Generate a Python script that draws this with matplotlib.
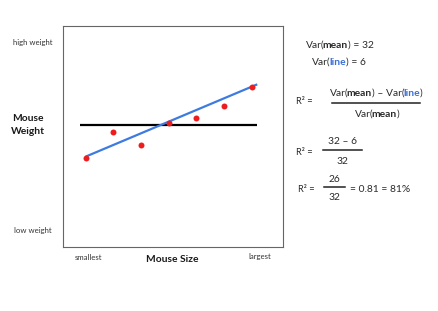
import matplotlib
matplotlib.use("Agg")
import matplotlib.pyplot as plt
from matplotlib.lines import Line2D
from matplotlib.font_manager import FontProperties

plt.rcParams['font.family'] = ['Lato', 'DejaVu Sans']

# ---- data ----
mouse_size = [1, 2, 3, 4, 5, 6, 7]
mouse_weight = [4.01, 5.22, 4.62, 5.62, 5.85, 6.37, 7.25]
mean_line_x = [0.79, 7.19]
mean_line_y = [5.52, 5.52]
fit_line_x = [1.0, 7.2]
fit_line_y = [4.09, 7.36]
var_mean = 32
var_line = 6

W, H = 438, 311
fig = plt.figure(figsize=(W / 100, H / 100), dpi=100)
renderer = fig.canvas.get_renderer()

# overlay axes in pixel coordinates for text placement
ov = fig.add_axes([0, 0, 1, 1])
ov.set_xlim(0, W)
ov.set_ylim(H, 0)
ov.axis('off')

# chart box
L, R, T, B = 63, 283, 26, 247
ax = fig.add_axes([L / W, (H - B) / H, (R - L) / W, (B - T) / H])
ax.set_xlim(0.18, 8.13)
ax.set_ylim(0, 10)
ax.set_xticks([])
ax.set_yticks([])
for s in ax.spines.values():
    s.set_color('#666666')
    s.set_linewidth(0.8)

ax.plot(mean_line_x, mean_line_y, color='black', lw=1.6, solid_capstyle='butt', zorder=2)
ax.plot(fit_line_x, fit_line_y, color='#3d7be0', lw=1.6, solid_capstyle='butt', zorder=3)
ax.plot(mouse_size, mouse_weight, 'o', color='#ee1c1c', ms=4.3, mec='none', zorder=4)

small = 5.6
big = 7.4
gray = '#333333'
dark = '#1a1a1a'
ov.text(33, 43, 'high weight', fontsize=small, ha='center', va='center', color=gray)
ov.text(33, 230, 'low weight', fontsize=small, ha='center', va='center', color=gray)
ov.text(27.5, 118.5, 'Mouse', fontsize=big, fontweight='bold', ha='center', va='center', color=dark)
ov.text(27.5, 131.5, 'Weight', fontsize=big, fontweight='bold', ha='center', va='center', color=dark)
ov.text(88.5, 257, 'smallest', fontsize=small, ha='center', va='center', color=gray)
ov.text(260, 257, 'largest', fontsize=small, ha='center', va='center', color=gray)
ov.text(172, 259.5, 'Mouse Size', fontsize=big, fontweight='bold', ha='center', va='center', color=dark)

blue = '#3a6fd6'
tc = '#2a2a2a'
fs = 7.4


def text_w(s, wt, size):
    fp = FontProperties(family=['Lato', 'DejaVu Sans'], weight=wt, size=size)
    pad = 'H'
    w1, _, _ = renderer.get_text_width_height_descent(pad + s + pad, fp, ismath=False)
    w0, _, _ = renderer.get_text_width_height_descent(pad + pad, fp, ismath=False)
    return w1 - w0


def kern(prev_txt, next_txt):
    k = 0.0
    if prev_txt.endswith('('):
        k -= 0.9
        if next_txt.startswith('m'):
            k -= 0.6
    if next_txt.startswith(')'):
        k -= 0.4
    return k


def rich(x, y, pieces, size=fs, ha='left'):
    widths = [text_w(t, wt, size) for t, wt, _ in pieces]
    kerns = [0.0] + [kern(pieces[i - 1][0], pieces[i][0]) for i in range(1, len(pieces))]
    total = sum(widths) + sum(kerns)
    if ha == 'center':
        x = x - total / 2
    cx = x
    for (txt, wt, col), w, k in zip(pieces, widths, kerns):
        cx += k
        ov.text(cx, y, txt, fontsize=size, fontweight=wt, color=col,
                ha='left', va='baseline')
        cx += w


P = lambda t: (t, 'normal', tc)
Bm = ('mean', 'bold', tc)
Bl = ('line', 'bold', blue)

rich(339.5, 48, [P('Var('), Bm, P(') = %d' % var_mean)], ha='center')
rich(339, 65, [P('Var('), Bl, P(') = %d' % var_line)], ha='center')

# formula 1
ov.text(296, 104, 'R² =', fontsize=fs - 0.7, ha='left', va='baseline', color=tc)
rich(376, 96, [P('Var('), Bm, P(') – Var('), Bl, P(')')], ha='center')
fig.add_artist(Line2D([332 / W, 420 / W], [1 - 103 / H, 1 - 103 / H], color='#222222', lw=1.1))
rich(377, 117, [P('Var('), Bm, P(')')], ha='center')

# formula 2
ov.text(296, 155, 'R² =', fontsize=fs - 0.7, ha='left', va='baseline', color=tc)
ov.text(342, 144.5, '%d – %d' % (var_mean, var_line), fontsize=fs, ha='center', va='baseline', color=tc)
fig.add_artist(Line2D([323 / W, 362 / W], [1 - 150 / H, 1 - 150 / H], color='#222222', lw=1.1))
ov.text(342, 164, '%d' % var_mean, fontsize=fs, ha='center', va='baseline', color=tc)

# formula 3
ov.text(298, 191.5, 'R² =', fontsize=fs - 0.7, ha='left', va='baseline', color=tc)
ov.text(334, 182, '%d' % (var_mean - var_line), fontsize=fs, ha='center', va='baseline', color=tc)
fig.add_artist(Line2D([324 / W, 345 / W], [1 - 187 / H, 1 - 187 / H], color='#222222', lw=1.1))
ov.text(334, 200.5, '%d' % var_mean, fontsize=fs, ha='center', va='baseline', color=tc)
r2 = (var_mean - var_line) / var_mean
ov.text(350, 191.5, '= %.2f = %d%%' % (r2, round(r2 * 100)), fontsize=fs, ha='left', va='baseline', color=tc)

fig.savefig('out.png', dpi=100)
